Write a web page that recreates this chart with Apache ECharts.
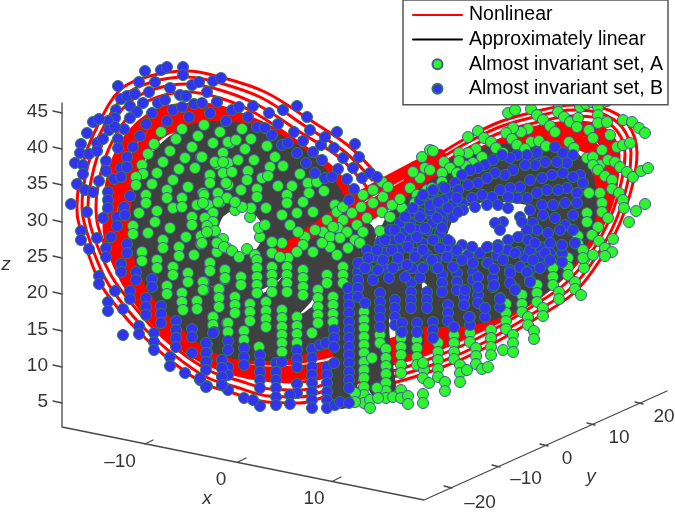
<!DOCTYPE html>
<html><head><meta charset="utf-8">
<style>html,body{margin:0;padding:0;background:#fff}#c{width:675px;height:512px}</style>
<script src="https://cdn.jsdelivr.net/npm/echarts@6/dist/echarts.min.js"></script>
</head><body><div id="c"></div>
<script>
// All positions are in the flattened picture plane of the 3-D view (u, v).
const boxEdges=[[[62,103],[62,427],[424,500],[667,391]]];
const zTicks=[[62,403,'5'],[62,367,'10'],[62,331,'15'],[62,294,'20'],[62,258,'25'],[62,222,'30'],[62,185,'35'],[62,149,'40'],[62,113,'45']];
const xTicks=[[145,444],[238,462],[333,481]];
const yTicks=[[452,488],[500,467],[548,446],[595,425],[643,404]];
const tickLabels=[[120,462,'–10'],[221,480,'0'],[314,499,'10'],[480,503,'–20'],[526,479,'–10'],[567,459,'0'],[619,438,'10'],[664,417,'20']];
const axisNames=[[6,265,'z'],[207,499,'x'],[591,477,'y']];

const redOuter1=[[377,175],[350,147],[310,120],[265,92],[220,77],[187,71],[150,76],[120,90],[97,127],[83,163],[77,207],[78,220],[87,250],[100,283],[117,307],[140,333],[170,360],[203,383],[233,393],[267,402],[300,403],[333,394],[360,388],[393,383],[443,367],[487,347],[540,316],[575,292],[600,260],[620,223],[633,183],[637,153],[627,123],[603,108],[573,105],[530,113],[497,123],[463,140],[430,160],[413,170]];
const redOuter2=[[372,180],[345,152],[305,126],[262,98],[220,83],[187,77],[152,82],[124,96],[102,130],[88,165],[82,207],[84,222],[93,250],[106,280],[122,303],[145,329],[174,355],[206,377],[236,387],[268,396],[300,397],[333,388],[360,382],[393,377],[443,361],[485,342],[537,311],[571,288],[596,257],[616,220],[628,181],[631,153],[622,127],[600,113],[573,110],[530,118],[497,128],[463,145],[430,165],[405,180]];
const redOuter3=[[366,186],[340,158],[300,132],[258,105],[220,90],[187,84],[155,89],[128,103],[107,134],[94,168],[88,207],[90,224],[99,250],[112,277],[128,299],[150,325],[178,350],[210,371],[240,381],[270,389],[300,390],[333,382],[360,376],[393,371],[440,355],[482,336],[533,306],[566,283],[591,253],[611,216],[622,179],[625,154],[617,131],[597,118],[573,116],[530,124],[497,134],[463,151],[430,171],[398,190]];
const redOuter4=[[355,195],[333,168],[295,140],[255,113],[220,98],[187,92],[158,97],[134,110],[113,140],[101,172],[96,207],[98,226],[107,250],[120,274],[136,296],[157,320],[184,344],[215,364],[245,374],[272,381],[300,382],[333,375],[360,369],[393,364],[438,349],[478,330],[528,300],[560,278],[585,248],[605,212],[616,177],[619,155],[611,135],[594,124],[573,122],[530,130],[497,141],[463,157],[430,178],[390,202]];
const redBandLeft1=[[360,215],[332,178],[298,150],[250,124],[200,110],[158,116],[128,143],[113,182],[110,225],[122,268],[147,308],[182,342],[222,364],[270,374],[320,370],[360,358]];
const redBandLeft2=[[350,225],[320,182],[285,152],[245,132],[200,122],[165,128],[140,153],[126,192],[125,235],[138,273],[163,308],[197,336],[237,354],[280,358],[330,350]];
const redBandRight1=[[395,218],[435,180],[482,155],[530,135],[575,128],[603,138],[612,165],[605,205],[585,243],[556,276],[517,305],[468,330],[420,350],[370,362]];
const redBandRight2=[[400,228],[440,192],[490,168],[535,148],[572,142],[593,150],[600,170],[594,205],[575,238],[546,270],[508,297],[460,320],[415,338],[375,350]];
const redBandRight3=[[425,330],[455,314],[505,288],[540,262],[568,232],[585,200]];
const redCrossing=[[278,254],[320,226],[367,193],[413,168],[440,155]];
const redCrossing2=[[330,228],[367,208],[413,182]];
const redCrossing3=[[358,222],[385,205],[420,180],[442,166]];

const darkLeft1=[[197,232],[210,203],[240,190],[270,203],[282,232],[270,262],[240,275],[210,262]];
const darkLeft2=[[165,235],[178,190],[213,158],[262,158],[302,188],[315,235],[302,282],[262,312],[213,308],[180,280]];
const darkLeft3=[[148,240],[155,185],[180,152],[212,140],[258,146],[302,172],[330,210],[343,255],[340,298],[315,328],[270,342],[228,338],[195,315],[165,282]];
const darkRight1=[[425,242],[445,198],[490,183],[535,188],[547,215],[527,252],[482,272],[440,270]];
const darkRight2=[[385,268],[410,215],[460,175],[520,162],[568,170],[578,205],[558,255],[510,293],[450,308],[405,305]];
const darkStrand1=[[362,235],[352,300],[348,350],[342,395]];
const darkStrand2=[[375,255],[375,320],[382,385]];
const darkStrand3=[[408,262],[408,300],[410,340]];
const darkStrand4=[[440,270],[445,300],[462,312]];

const setA=[[161,132],[182,129],[204,125],[176,139],[198,136],[220,132],[154,144],[192,147],[213,143],[230,143],[170,151],[148,154],[185,158],[201,157],[223,153],[142,165],[163,162],[217,164],[143,174],[179,169],[195,168],[228,163],[136,177],[157,173],[210,176],[173,180],[136,185],[152,184],[223,173],[188,187],[167,190],[203,193],[146,195],[228,185],[218,194],[167,198],[182,198],[197,205],[146,203],[220,202],[173,208],[182,207],[139,213],[157,211],[192,217],[213,213],[208,205],
[133,226],[133,234],[148,233],[142,252],[142,261],[163,240],[163,248],[157,260],[157,268],[179,247],[179,256],[173,267],[173,275],[167,286],[167,294],[194,255],[188,273],[188,282],[182,293],[182,302],[204,282],[204,290],[197,301],[197,309],[183,310],[219,289],[219,297],[219,306],[213,317],[213,325],[210,263],[210,270],[225,270],[225,279],[201,236],[201,244],[186,237],[170,228],[155,222],[192,225],[217,243],[217,252],[227,248],[227,323],
[242,129],[228,142],[236,140],[251,139],[245,149],[267,146],[254,160],[202,157],[215,162],[238,160],[275,157],[223,162],[232,172],[248,171],[270,167],[262,178],[283,166],[268,176],[210,175],[247,180],[226,183],[210,183],[300,174],[278,186],[257,189],[241,190],[218,193],[204,195],[308,183],[292,186],[317,182],[257,197],[227,198],[218,202],[287,195],[287,203],[309,193],[324,191],[303,202],[266,208],[282,215],[297,213],[313,212],[335,205],[337,212],[327,220],[343,207],[352,213],[361,207],[363,195],[373,203],[382,212],[390,217],[402,208],[392,205],[383,197],[373,190],[382,182],[388,187],[400,199],[410,188],[420,178],[425,168],[413,172],[422,157],[430,150],[427,190],[417,195],[415,203],[367,218],[380,231],[357,225],[343,220],[338,228],[323,232],[363,232],[355,240],[347,232],[333,227],[315,230],[305,237],[298,232],[290,225],[282,243],[303,245],[330,237],[340,238],[330,247],[322,243],[313,252],[297,252],[288,258],[337,255],[348,248],[360,243],
[235,210],[213,213],[205,218],[213,222],[207,226],[215,231],[207,232],[203,203],[223,239],[217,243],[224,247],[232,251],[239,257],[247,249],[255,255],[272,242],[260,237],[259,228],[265,225],[250,217],[251,208],[242,207],[235,202],[202,243],[210,263],[257,260],[272,253],[280,257],
[210,263],[210,271],[225,270],[225,278],[203,282],[203,290],[241,277],[241,285],[219,289],[219,298],[219,307],[213,317],[213,325],[235,297],[235,305],[235,313],[228,323],[228,332],[250,304],[250,312],[250,321],[244,331],[244,340],[257,268],[257,277],[257,285],[257,293],[272,267],[272,275],[272,283],[272,292],[266,302],[266,311],[266,319],[266,327],[259,347],[282,310],[282,318],[282,327],[282,335],[282,343],[282,352],[287,267],[287,275],[287,283],[287,292],[297,317],[297,326],[297,334],[297,343],[303,270],[303,278],[303,287],[303,295],[312,333],[318,290],[318,298],[318,307],[318,315],[318,323],[327,275],[327,283],[333,297],[333,305],[333,314],[333,322],[343,267],[343,275],[343,283],
[364,312],[364,320],[364,328],[364,337],[364,345],[364,353],[364,362],[364,370],[364,378],[364,387],[364,395],[364,403],[370,400],[370,408],[372,358],[355,393],[355,402],[380,335],[380,343],[386,349],[386,358],[386,366],[386,374],[386,383],[386,391],[386,398],[377,388],[378,398],[393,397],[401,338],[401,347],[401,355],[401,365],[401,373],[401,390],[401,398],[408,396],[408,404],[417,340],[417,348],[417,357],[417,365],[423,394],[423,403],[424,370],[423,363],[423,378],[429,383],[438,343],[438,352],[438,360],[438,369],[438,377],[445,382],[445,391],[454,335],[454,343],[454,352],[454,359],[460,365],[460,373],[460,382],[467,370],[470,333],[470,342],[476,348],[476,356],[476,364],[482,369],[488,367],[491,330],[491,338],[491,347],[491,355],[503,350],[506,304],[506,313],[506,321],[506,329],[513,335],[513,343],[513,352],[522,295],[522,304],[522,312],[528,317],[528,325],[534,331],[534,339],[537,285],[537,293],[537,302],[543,308],[543,316],[553,268],[553,277],[553,285],[559,292],[559,299],[568,258],[568,267],[568,275],[575,282],[575,289],[581,295],[584,260],[584,268],
[508,113],[515,110],[531,109],[558,103],[580,107],[586,104],[592,102],[607,101],[598,107],[537,115],[543,120],[550,126],[558,112],[564,117],[570,122],[578,118],[598,115],[598,123],[607,122],[589,130],[577,127],[555,132],[528,129],[521,132],[513,128],[506,133],[478,131],[468,137],[484,138],[491,142],[512,139],[531,142],[539,141],[546,146],[569,142],[517,145],[525,149],[496,148],[503,153],[476,149],[468,153],[459,153],[482,157],[473,163],[466,166],[459,161],[444,162],[450,168],[457,173],[433,151],[430,170],[442,173],[442,182],[432,188],
[574,148],[593,138],[602,150],[610,135],[617,147],[623,145],[623,120],[632,122],[639,128],[645,133],[630,143],[587,158],[593,157],[600,165],[608,160],[615,162],[620,167],[593,165],[598,170],[627,172],[633,177],[641,171],[648,168],[605,176],[612,180],[612,189],[589,193],[600,193],[619,193],[623,200],[602,203],[624,208],[645,204],[636,211],[602,212],[608,218],[587,213],[587,222],[629,222],[598,227],[592,235],[613,239],[599,241],[578,236],[578,244],[605,248],[612,252],[583,250],[605,256],[583,258],[593,255]];

const setB=[[118,86],[145,71],[161,70],[167,67],[183,67],[183,75],[139,82],[155,82],[170,88],[192,85],[199,82],[213,81],[221,78],[121,99],[127,96],[135,94],[149,92],[158,103],[165,100],[180,95],[186,96],[207,92],[217,102],[143,103],[116,110],[130,106],[137,112],[152,113],[173,110],[182,107],[194,104],[202,103],[210,113],[226,121],[189,117],[167,121],[146,124],[130,118],[115,118],[108,121],[93,122],[99,119],[87,133],[124,129],[109,130],[115,127],[140,136],[118,139],[81,144],[97,143],[103,139],[80,153],[89,154],[97,151],[118,148],[133,147],[127,157],[75,163],[83,165],[106,161],[106,171],[121,168],[127,167],[83,174],[114,179],[121,177],[99,181],[77,184],[85,190],[93,192],[108,192],[130,196],[108,200],[71,204],[124,207],[108,208],[87,212],[117,217],[125,215],[103,218],
[81,231],[81,240],[89,249],[97,238],[111,237],[117,226],[106,248],[106,257],[127,244],[127,253],[121,264],[121,272],[136,272],[136,280],[99,276],[99,284],[115,291],[130,291],[130,299],[152,279],[152,287],[146,298],[108,302],[108,311],[123,309],[146,307],[146,315],[161,306],[161,314],[161,323],[176,321],[176,330],[176,338],[139,326],[139,334],[154,333],[154,342],[154,350],[192,329],[192,337],[123,335],[170,357],[170,366],[185,373],[192,353],[207,344],[207,352],[207,360],[222,360],[222,368],[222,376],[200,380],[207,386],[222,385],[176,347],[214,332],
[210,113],[217,102],[226,121],[232,110],[248,117],[239,107],[253,106],[257,127],[265,128],[269,113],[278,124],[283,110],[297,106],[272,135],[282,145],[288,143],[294,132],[303,141],[310,130],[307,117],[297,153],[306,163],[313,152],[321,145],[325,137],[337,132],[334,148],[343,158],[322,160],[315,173],[338,169],[347,179],[353,168],[355,144],[359,157],[362,178],[370,173],[377,177],[354,189],[325,178],[332,177],[349,200],
[206,343],[206,353],[206,362],[206,370],[206,387],[200,378],[213,333],[228,341],[228,350],[228,367],[228,375],[228,390],[222,360],[222,368],[222,377],[222,385],[244,348],[244,357],[244,365],[244,398],[260,355],[260,363],[260,372],[260,380],[260,388],[260,406],[253,400],[276,363],[276,372],[276,380],[276,388],[276,397],[276,405],[282,362],[297,350],[297,359],[297,367],[297,384],[297,393],[290,395],[290,404],[312,349],[312,358],[312,367],[312,375],[312,383],[312,392],[312,400],[312,408],[327,367],[327,375],[327,383],[327,392],[327,400],[327,408],[320,345],[326,343],[334,330],[334,338],[334,347],[334,363],[335,405],[340,402],[349,297],[349,305],[349,313],[349,322],[349,330],[349,338],[349,347],[349,355],[349,363],[349,372],[349,380],[349,388],[349,403],[348,288],[358,272],[358,280],[358,288],[358,297],[365,303],[373,272],[373,280],[380,293],[380,302],[380,310],[380,318],[380,327],[389,270],[389,278],[395,300],[395,308],[395,317],[395,325],[398,265],[411,283],[411,292],[411,300],[411,308],[417,323],[417,332],[420,270],[420,278],
[405,277],[402,323],[402,332],[427,292],[427,300],[427,308],[433,322],[433,330],[433,338],[436,260],[436,268],[442,275],[442,283],[442,292],[448,305],[448,313],[448,321],[454,327],[457,273],[457,282],[457,290],[464,297],[464,305],[470,317],[470,325],[473,272],[473,280],[478,287],[478,295],[478,303],[485,308],[485,317],[487,263],[493,278],[493,287],[500,298],[500,307],[503,255],[510,270],[515,288],[530,270],[530,280],[525,257],[545,263],[562,254],[562,262],
[537,153],[555,147],[563,153],[573,155],[527,155],[517,155],[510,158],[502,155],[493,160],[485,165],[478,168],[470,170],[462,175],[455,183],[443,187],[433,195],[580,175],[567,163],[557,162],[545,162],[535,165],[525,165],[513,170],[505,175],[495,173],[487,178],[478,183],[468,185],[458,190],[448,195],[438,200],[583,183],[573,177],[563,173],[552,175],[542,178],[530,180],[520,187],[510,188],[500,190],[492,197],[482,195],[472,198],[462,203],[452,205],[443,200],[435,207],[577,193],[567,188],[558,190],[547,190],[537,193],[527,198],[517,198],[508,197],[498,205],[487,205],[475,207],[463,210],[453,217],[442,213],[432,217],[577,203],[565,203],[553,205],[542,205],[530,210],[520,217],[508,208],[573,215],[565,225],[555,218],[543,215],[533,223],[522,222],[503,222],[495,223],[500,230],[573,230],[560,230],[548,233],[537,230],[527,230],[518,237],[508,240],[562,245],[550,243],[540,247],[528,240],[530,250],[518,252],[508,250],[498,245],[488,247],[472,247],[462,245],[450,242],[440,233],[433,223],[442,222],[447,250],[435,240],[455,253],[480,253],[562,253],[550,253],[540,257],[497,255],[468,255],
[430,193],[420,200],[410,213],[400,223],[420,213],[410,223],[430,210],[390,230],[403,233],[417,230],[427,230],[380,243],[393,240],[410,240],[422,243],[367,250],[373,257],[385,253],[400,250],[415,253],[427,255],[360,263],[382,265],[397,263],[410,265],[423,267],[358,263],[367,267],[412,268],
[423,195],[413,208],[430,205],[405,217],[420,217],[437,218],[395,230],[410,228],[425,228],[442,228],[385,240],[400,238],[417,237],[433,240],[448,240],[377,250],[392,250],[408,247],[423,250],[440,248],[457,250],[368,258],[383,260],[398,258],[415,257],[432,260],[447,257],[462,260],[365,268],[378,270],[393,268],[407,265],[423,268],[438,268],[453,267],[445,188],[457,198],[438,202],[448,208],[458,212],[433,190],
[472,247],[487,247],[498,248],[515,253],[535,243],[545,253],[562,245],[575,243],[473,263],[488,263],[503,260],[520,267],[533,260],[550,260],[562,262],[478,277],[494,269],[510,273],[527,272],[540,268],[478,287],[494,285],[510,283],[530,282],[465,290],[515,290],[485,308],[500,299],[469,317]];

const thinRed=[redOuter1,redOuter2,redOuter3,redOuter4];
const thickRed=[redBandLeft1,redBandLeft2,redBandRight1,redBandRight2,redBandRight3];
const crossRed=[redCrossing,redCrossing2,redCrossing3];
const darkRings=[darkLeft1,darkLeft2,darkLeft3,darkRight1,darkRight2];
const darkStrands=[darkStrand1,darkStrand2,darkStrand3,darkStrand4];
const ringClosed=p=>p.concat([p[0]]);

const line=(name,data,color,width,smooth,z)=>({type:'line',name,data,symbol:'none',smooth,z,connectNulls:false,silent:true,animation:false,lineStyle:{color,width,cap:'round',join:'round'},itemStyle:{color}});
const series=[];
thinRed.forEach(d=>series.push(line('Nonlinear',d,'#ff0000',3,0.35,1)));
thickRed.forEach(d=>series.push(line('Nonlinear',d,'#ff0000',15,0.35,1)));
darkRings.forEach(d=>series.push(line('Approximately linear',ringClosed(d),'#404040',38,0.35,2)));
darkStrands.forEach(d=>series.push(line('Approximately linear',d,'#404040',28,0.35,2)));
crossRed.forEach(d=>series.push(line('Nonlinear',d,'#ff0000',12,0.2,3)));
series.push({type:'scatter',z:5,name:'Almost invariant set, A',data:setA,symbol:'circle',symbolSize:11,silent:true,animation:false,itemStyle:{color:'#2ff52f',borderColor:'#48589c',borderWidth:1,opacity:1}});
series.push({type:'scatter',z:6,name:'Almost invariant set, B',data:setB,symbol:'circle',symbolSize:11,silent:true,animation:false,itemStyle:{color:'#3232f0',borderColor:'#2e7d50',borderWidth:1,opacity:1}});

// axes of the box
const axisColor='#484848';
boxEdges.forEach(d=>series.push(line('box',d,axisColor,1.3,false,7)));
const tickSeg=[];
zTicks.forEach(t=>tickSeg.push([t[0],t[1]],[t[0]-9,t[1]-2],[null,null]));
xTicks.forEach(t=>tickSeg.push([t[0],t[1]],[t[0]+8,t[1]-4],[null,null]));
yTicks.forEach(t=>tickSeg.push([t[0],t[1]],[t[0]-8,t[1]-2],[null,null]));
series.push(line('ticks',tickSeg,axisColor,1.3,false,7));
const lab=(rows,align,italic,dx)=>({type:'scatter',z:8,name:'labels',symbolSize:0,silent:true,animation:false,data:rows.map(r=>({value:[r[0]+dx,r[1]],label:{formatter:r[2]}})),
  label:{show:true,position:'inside',align,verticalAlign:'middle',color:'#000',fontFamily:'Liberation Sans',fontSize:19,fontStyle:italic?'italic':'normal'}});
series.push(lab(zTicks.map(t=>[t[0],t[1]-1,t[2]]),'right',false,-14));
series.push(lab(tickLabels,'center',false,0));
series.push(lab(axisNames,'center',true,0));

const chart=echarts.init(document.getElementById('c'),null,{renderer:'canvas'});
chart.setOption({
  animation:false,backgroundColor:'#fff',
  grid:{left:0,right:0,top:0,bottom:0},
  xAxis:{type:'value',min:0,max:675,show:false},
  yAxis:{type:'value',min:0,max:512,inverse:true,show:false},
  legend:{show:true,orient:'vertical',left:403,top:0,width:265,padding:[5,5,6,9],itemGap:4.6,itemWidth:49,itemHeight:10,
    backgroundColor:'#fff',borderColor:'#555',borderWidth:1.5,borderRadius:0,z:20,
    textStyle:{color:'#000',fontFamily:'Liberation Sans',fontSize:19.5,lineHeight:18,padding:[0,0,0,2]},
    data:[{name:'Nonlinear',lineStyle:{color:'#ff0000',width:2},itemStyle:{opacity:0}},{name:'Approximately linear',lineStyle:{color:'#000',width:2},itemStyle:{opacity:0}},
      {name:'Almost invariant set, A'},{name:'Almost invariant set, B'}]},
  series
});
</script></body></html>
